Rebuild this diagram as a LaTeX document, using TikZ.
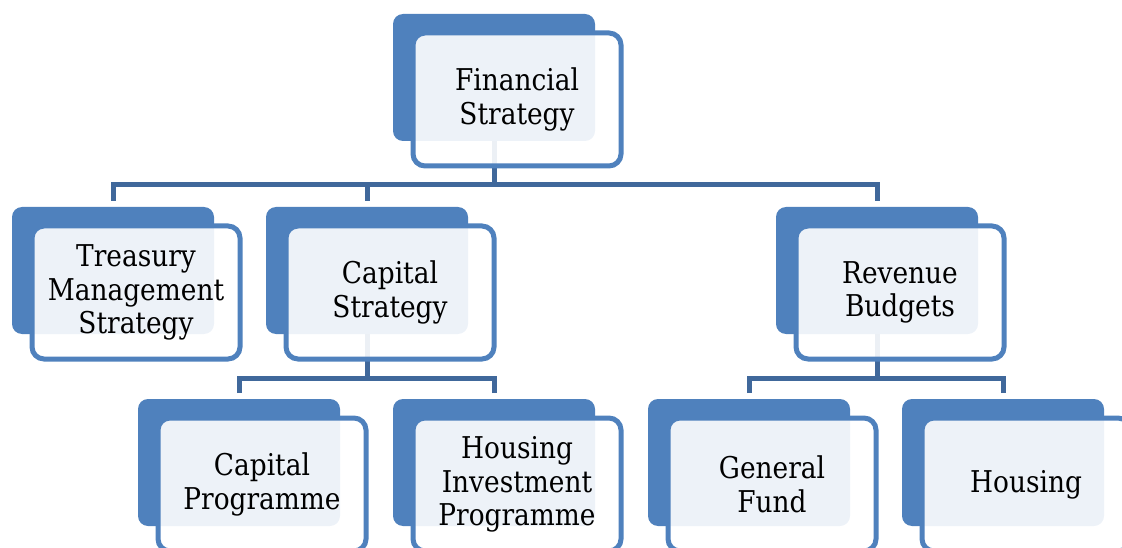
\documentclass[tikz,border=0pt]{standalone}
\usepackage{fontspec}
\setmainfont{DejaVu Serif}[FakeStretch=0.88]
\definecolor{accent}{HTML}{4F81BD}
\definecolor{linkblue}{HTML}{40689B}
\pgfdeclarelayer{bg}
\pgfsetlayers{bg,main}
\begin{document}
\begin{tikzpicture}[x=1pt,y=-1pt,
  back/.style={anchor=north west, fill=accent, rounded corners=10pt,
    minimum width=202pt, minimum height=127pt, inner sep=0pt, outer sep=0pt},
  front/.style={anchor=north west, draw=accent, line width=5pt, fill=white,
    fill opacity=0.9, text opacity=1, text=black, rounded corners=12pt,
    minimum width=208pt, minimum height=133pt, inner sep=0pt, outer sep=0pt,
    align=center, font=\fontsize{30}{33.5}\selectfont},
  conn/.style={draw=linkblue, line width=5pt}]
\useasboundingbox (0,0) rectangle (1122,548);
\clip (0,0) rectangle (1122,548);

% back plates
\node[back] (fin-b) at (393,14) {};
\node[back] (tre-b) at (12,207) {};
\node[back] (cap-b) at (266,207) {};
\node[back] (rev-b) at (776,207) {};
\node[back] (cpr-b) at (138,399) {};
\node[back] (hip-b) at (393,399) {};
\node[back] (gen-b) at (648,399) {};
\node[back] (hou-b) at (902,399) {};

% front cards with labels
\node[front] (fin) at ([shift={(20,19)}]fin-b.north west) {Financial\\Strategy};
\node[front] (tre) at ([shift={(20,19)}]tre-b.north west) {Treasury\\Management\\Strategy};
\node[front] (cap) at ([shift={(20,19)}]cap-b.north west) {Capital\\Strategy};
\node[front] (rev) at ([shift={(20,19)}]rev-b.north west) {Revenue\\Budgets};
\node[front] (cpr) at ([shift={(20,19)}]cpr-b.north west) {Capital\\Programme};
\node[front] (hip) at ([shift={(20,19)}]hip-b.north west) {Housing\\Investment\\Programme};
\node[front] (gen) at ([shift={(20,19)}]gen-b.north west) {General\\Fund};
\node[front] (hou) at ([shift={(20,19)}]hou-b.north west) {Housing};

% connectors, kept behind the cards
\begin{pgfonlayer}{bg}
  \coordinate (j1) at ([yshift=-44pt]fin-b.south);
  \coordinate (j2) at ([yshift=-44pt]cap-b.south);
  \coordinate (j3) at ([yshift=-44pt]rev-b.south);
  \draw[conn] (fin-b.south) -- (j1);
  \draw[conn, shorten <=6pt] (tre-b.north) |- (j1);
  \draw[conn, shorten <=6pt] (cap-b.north) -- (cap-b.north |- j1);
  \draw[conn, shorten <=6pt] (rev-b.north) |- (j1);
  \draw[conn] (cap-b.south) -- (j2);
  \draw[conn, shorten <=6pt] (cpr-b.north) |- (j2);
  \draw[conn, shorten <=6pt] (hip-b.north) |- (j2);
  \draw[conn] (rev-b.south) -- (j3);
  \draw[conn, shorten <=6pt] (gen-b.north) |- (j3);
  \draw[conn, shorten <=6pt] (hou-b.north) |- (j3);
\end{pgfonlayer}
\end{tikzpicture}
\end{document}
